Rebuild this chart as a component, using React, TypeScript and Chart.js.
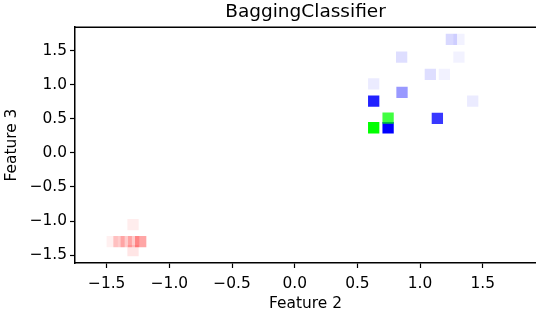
import React, { useEffect, useRef } from "react";
import { Chart, registerables } from "chart.js";

Chart.register(...registerables);

const chartTitle = "BaggingClassifier";
const xLabel = "Feature 2";
const yLabel = "Feature 3";
const xTicks = [-1.5, -1.0, -0.5, 0.0, 0.5, 1.0, 1.5];
const yTicks = [-1.5, -1.0, -0.5, 0.0, 0.5, 1.0, 1.5];
const xRange = [-1.753, 1.925];
const yRange = [-1.617, 1.848];

// class 0 (red)
const redX = [-1.29, -1.456, -1.402, -1.344, -1.285, -1.229, -1.29];
const redY = [-1.054, -1.304, -1.304, -1.304, -1.304, -1.304, -1.436];
const redAlpha = [0.07, 0.06, 0.2, 0.2, 0.2, 0.35, 0.1];

// class 1 (green)
const greenX = [0.745, 0.63];
const greenY = [0.512, 0.37];
const greenAlpha = [0.75, 1.0];

// class 2 (blue)
const blueX = [1.25, 1.31, 0.853, 1.31, 1.082, 1.194, 0.63, 0.856, 0.63, 1.42, 1.138, 0.745];
const blueY = [1.668, 1.668, 1.408, 1.408, 1.154, 1.154, 1.016, 0.89, 0.762, 0.762, 0.508, 0.37];
const blueAlpha = [0.15, 0.05, 0.13, 0.05, 0.13, 0.05, 0.08, 0.4, 0.87, 0.08, 0.78, 1.0];

const FONT = "'DejaVu Sans', sans-serif";

function pts(xs: number[], ys: number[]) {
  return xs.map((x, i) => ({ x, y: ys[i] }));
}
function cols(rgb: string, alphas: number[]) {
  return alphas.map((a) => `rgba(${rgb},${a})`);
}
function fmt(v: number) {
  return v.toFixed(1).replace("-", "\u2212");
}

const topSpine = {
  id: "topSpine",
  afterDraw(chart: any) {
    const { ctx, chartArea } = chart;
    ctx.save();
    ctx.strokeStyle = "#000";
    ctx.lineWidth = 1.5;
    ctx.beginPath();
    ctx.moveTo(chartArea.left, chartArea.top);
    ctx.lineTo(chartArea.right, chartArea.top);
    ctx.stroke();
    ctx.restore();
  },
};

export default function App() {
  const ref = useRef<HTMLCanvasElement>(null);
  useEffect(() => {
    document.body.style.margin = "0";
    if (!ref.current) return;
    const ds = (xs: number[], ys: number[], rgb: string, al: number[]) => ({
      data: pts(xs, ys),
      backgroundColor: cols(rgb, al),
      borderWidth: 0,
      pointStyle: "rect" as const,
      pointRadius: 8,
      pointHoverRadius: 8,
    });
    const chart = new Chart(ref.current, {
      type: "scatter",
      data: {
        datasets: [
          ds(redX, redY, "255,0,0", redAlpha),
          ds(greenX, greenY, "0,255,0", greenAlpha),
          ds(blueX, blueY, "0,0,255", blueAlpha),
        ],
      },
      options: {
        animation: false,
        responsive: false,
        layout: { padding: 0, autoPadding: false },
        plugins: {
          legend: { display: false },
          tooltip: { enabled: false },
          title: {
            display: true,
            text: chartTitle,
            fullSize: false,
            color: "#000",
            font: { family: FONT, size: 18.5, weight: "normal", lineHeight: 1.2 },
            padding: { top: 1, bottom: 4 },
          },
        },
        scales: {
          x: {
            type: "linear",
            min: xRange[0],
            max: xRange[1],
            afterBuildTicks: (s: any) => {
              s.ticks = xTicks.map((v) => ({ value: v }));
            },
            afterFit: (s: any) => {
              s.height = 49;
            },
            grid: { display: true, drawOnChartArea: false, drawTicks: true, tickLength: 5, color: "#000", tickWidth: 1.2 },
            border: { display: true, color: "#000", width: 1.5 },
            ticks: {
              color: "#000",
              padding: 7,
              font: { family: FONT, size: 15.4 },
              callback: (v: any) => fmt(Number(v)),
              maxRotation: 0,
            },
            title: {
              display: true,
              text: xLabel,
              color: "#000",
              font: { family: FONT, size: 15.4, lineHeight: 1.1 },
              padding: 0,
            },
          },
          y: {
            type: "linear",
            min: yRange[0],
            max: yRange[1],
            afterBuildTicks: (s: any) => {
              s.ticks = yTicks.map((v) => ({ value: v }));
            },
            afterFit: (s: any) => {
              s.width = 75;
            },
            grid: { display: true, drawOnChartArea: false, drawTicks: true, tickLength: 5, color: "#000", tickWidth: 1.2 },
            border: { display: true, color: "#000", width: 1.5 },
            ticks: {
              color: "#000",
              padding: 3,
              font: { family: FONT, size: 15.4 },
              callback: (v: any) => fmt(Number(v)),
            },
            title: {
              display: true,
              text: yLabel,
              color: "#000",
              font: { family: FONT, size: 15.4 },
              padding: { top: 3, bottom: 0 },
            },
          },
        },
      },
      plugins: [topSpine],
    });
    return () => chart.destroy();
  }, []);
  return (
    <div style={{ width: 536, height: 312, background: "#fff" }}>
      <canvas ref={ref} width={536} height={312} style={{ display: "block" }} />
    </div>
  );
}
